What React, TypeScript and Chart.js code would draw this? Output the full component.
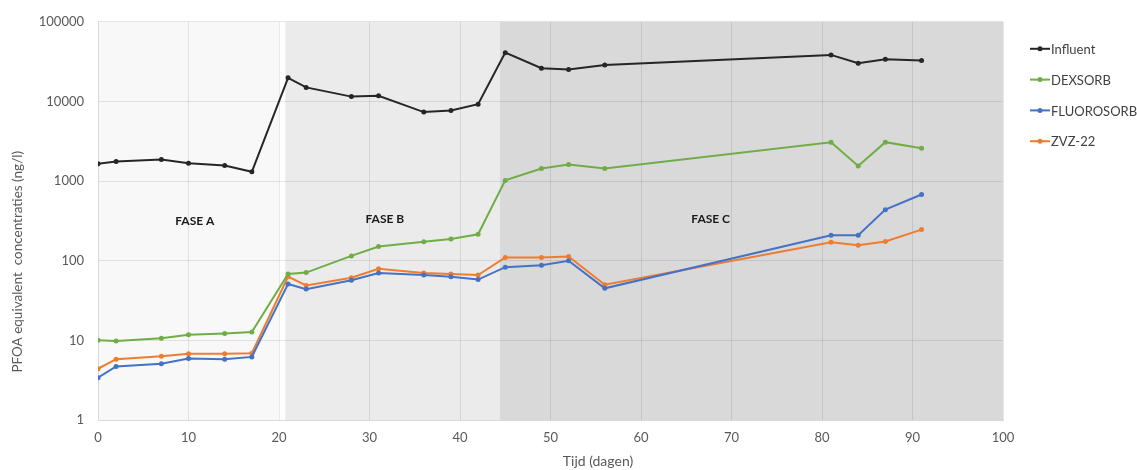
import React, { useEffect, useRef } from "react";
import { Chart, registerables } from "chart.js";
Chart.register(...registerables);

const days = [0, 2, 7, 10, 14, 17, 21, 23, 28, 31, 36, 39, 42, 45, 49, 52, 56, 81, 84, 87, 91];
const influent = [1650, 1760, 1870, 1680, 1570, 1310, 19800, 15000, 11500, 11800, 7350, 7700, 9250, 41000, 26100, 25100, 28700, 38400, 30200, 33900, 32600];
const dexsorb = [10, 9.8, 10.6, 11.8, 12.2, 12.7, 68, 71, 115, 151, 173, 187, 215, 1020, 1440, 1620, 1440, 3080, 1550, 3080, 2580];
const fluorosorb = [3.4, 4.7, 5.1, 5.9, 5.8, 6.2, 51, 44, 57, 70, 66, 63, 58, 83, 88, 100, 45, 209, 209, 438, 678];
const zvz22 = [4.4, 5.8, 6.3, 6.8, 6.8, 6.9, 63, 49, 61, 79, 70, 68, 66, 110, 110, 113, 50, 171, 156, 174, 246];

const seriesNames = ["Influent", "DEXSORB", "FLUOROSORB", "ZVZ-22"];
const seriesColors = ["#262626", "#70ad47", "#4472c4", "#ed7d31"];

const yTicks = [1, 10, 100, 1000, 10000, 100000];

const phaseNames = ["FASE A", "FASE B", "FASE C"];
const phaseStart = [0, 20.7, 44.4];
const phaseEnd = [20.0, 44.4, 100];
const phaseColors = ["#f8f8f8", "#ebebeb", "#d9d9d9"];
const phaseLabelX = [10.7, 31.7, 67.7];
const phaseLabelY = [313, 330, 330];

const yTitle = "PFOA equivalent  concentraties (ng/l)";
const xTitle = "Tijd (dagen)";

const FONT = "Lato, 'Liberation Sans', sans-serif";

const phasePlugin = {
  id: "phases",
  beforeDraw(chart: any) {
    const { ctx, chartArea, scales } = chart;
    const x = scales.x;
    ctx.save();
    for (let i = 0; i < phaseNames.length; i++) {
      const x0 = x.getPixelForValue(phaseStart[i]);
      const x1 = x.getPixelForValue(phaseEnd[i]);
      ctx.fillStyle = phaseColors[i];
      ctx.fillRect(x0, chartArea.top, x1 - x0, chartArea.bottom - chartArea.top);
    }
    ctx.restore();
  },
  beforeDatasetsDraw(chart: any) {
    const { ctx, scales } = chart;
    ctx.save();
    ctx.font = `bold 12px ${FONT}`;
    ctx.fillStyle = "#1a1a1a";
    ctx.textAlign = "center";
    ctx.textBaseline = "middle";
    for (let i = 0; i < phaseNames.length; i++) {
      ctx.fillText(phaseNames[i], scales.x.getPixelForValue(phaseLabelX[i]), scales.y.getPixelForValue(phaseLabelY[i]));
    }
    ctx.restore();
  },
  afterDraw(chart: any) {
    const { ctx, chartArea } = chart;
    ctx.save();
    // axis titles
    ctx.fillStyle = "#595959";
    ctx.font = `14px ${FONT}`;
    ctx.textAlign = "center";
    ctx.textBaseline = "middle";
    ctx.fillText(xTitle, chartArea.left + 500, chartArea.bottom + 41);
    ctx.save();
    ctx.font = `13.5px ${FONT}`;
    ctx.translate(18, chartArea.top + 240);
    ctx.rotate(-Math.PI / 2);
    ctx.fillText(yTitle, 0, 0);
    ctx.restore();
    // legend
    ctx.font = `13px ${FONT}`;
    ctx.textAlign = "left";
    chart.data.datasets.forEach((ds: any, i: number) => {
      const lx = chartArea.right + 27;
      const ly = chartArea.top + 27 + i * 30.8;
      ctx.strokeStyle = ds.borderColor;
      ctx.lineWidth = 2;
      ctx.beginPath();
      ctx.moveTo(lx, ly);
      ctx.lineTo(lx + 20, ly);
      ctx.stroke();
      ctx.fillStyle = ds.borderColor;
      ctx.beginPath();
      ctx.arc(lx + 10, ly, 2.5, 0, Math.PI * 2);
      ctx.fill();
      ctx.fillStyle = "#404040";
      ctx.fillText(ds.label, lx + 21, ly + 1);
    });
    ctx.restore();
  },
};

export default function App() {
  const ref = useRef<HTMLCanvasElement | null>(null);
  useEffect(() => {
    if (!ref.current) return;
    const series = [influent, dexsorb, fluorosorb, zvz22];
    const chart = new Chart(ref.current, {
      type: "line",
      data: {
        datasets: series.map((s, i) => ({
          label: seriesNames[i],
          data: days.map((d, j) => ({ x: d, y: s[j] })),
          borderColor: seriesColors[i],
          backgroundColor: seriesColors[i],
          borderWidth: 2,
          pointRadius: 2.5,
          pointBorderWidth: 0,
          pointHoverRadius: 2.5,
          tension: 0,
          fill: false,
        })),
      },
      options: {
        responsive: false,
        animation: false,
        events: [],
        layout: { padding: { left: 0, right: 134, top: 20, bottom: 0 } },
        plugins: { legend: { display: false }, tooltip: { enabled: false } },
        scales: {
          x: {
            type: "linear",
            min: 0,
            max: 100,
            ticks: { stepSize: 10, padding: 10, color: "#595959", font: { family: FONT, size: 13 } },
            grid: { color: "rgba(0,0,0,0.09)", drawTicks: false },
            border: { color: "#d9d9d9" },
            title: { display: false, text: xTitle },
            afterFit(scale: any) {
              scale.height = 50;
            },
          },
          y: {
            type: "logarithmic",
            min: 1,
            max: 100000,
            afterBuildTicks(scale: any) {
              scale.ticks = yTicks.map((v) => ({ value: v }));
            },
            ticks: {
              padding: 14,
              color: "#595959",
              font: { family: FONT, size: 13 },
              callback: (v: any) => String(v),
            },
            grid: { color: "rgba(0,0,0,0.09)", drawTicks: false },
            border: { color: "#d9d9d9" },
            title: { display: false, text: yTitle },
            afterFit(scale: any) {
              scale.width = 98;
            },
          },
        },
      },
      plugins: [phasePlugin],
    } as any);
    return () => chart.destroy();
  }, []);
  return (
    <div style={{ position: "absolute", left: 0, top: 0, width: 1137, height: 470, background: "#fff" }}>
      <canvas ref={ref} width={1137} height={470} style={{ display: "block" }} />
    </div>
  );
}
